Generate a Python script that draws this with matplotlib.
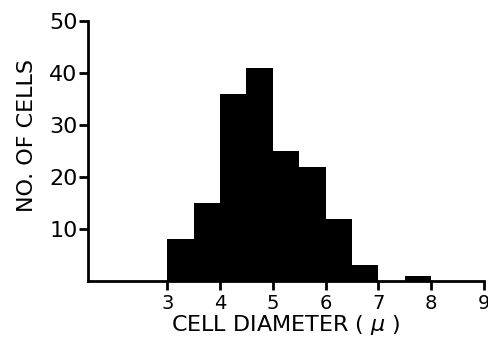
import matplotlib
matplotlib.use('Agg')
import matplotlib.pyplot as plt

# histogram of cell diameters, bins of 0.5 micron
bin_edges = [3.0, 3.5, 4.0, 4.5, 5.0, 5.5, 6.0, 6.5, 7.0, 7.5, 8.0]
counts = [8, 15, 36, 41, 25, 22, 12, 3, 0, 1]
x_ticks = [3, 4, 5, 6, 7, 8, 9]
y_ticks = [10, 20, 30, 40, 50]

plt.rcParams['font.family'] = ['DejaVu Sans']

fig = plt.figure(figsize=(4.89, 3.43), dpi=100)
ax = fig.add_axes([0.18, 0.181, 0.810, 0.758])

ax.stairs(counts, bin_edges, fill=True, color='black', linewidth=0)

ax.set_xlim(1.5, 9)
ax.set_ylim(0, 50)
ax.set_xticks(x_ticks)
ax.set_yticks(y_ticks)
ax.set_xticklabels([str(t) for t in x_ticks], fontsize=14)
ax.set_yticklabels([str(t) for t in y_ticks], fontsize=16)
ax.tick_params(direction='out', length=6.5, width=2, pad=1)
ax.tick_params(axis='x', pad=3)

for s in ['top', 'right']:
    ax.spines[s].set_visible(False)
for s in ['left', 'bottom']:
    ax.spines[s].set_linewidth(2)

ax.set_xlabel('CELL DIAMETER ( $\\mu$ )', fontsize=16, labelpad=0)
ax.set_ylabel('NO. OF CELLS', fontsize=16)
ax.yaxis.set_label_coords(-0.13, 0.56)

fig.savefig('out.png', dpi=100)
